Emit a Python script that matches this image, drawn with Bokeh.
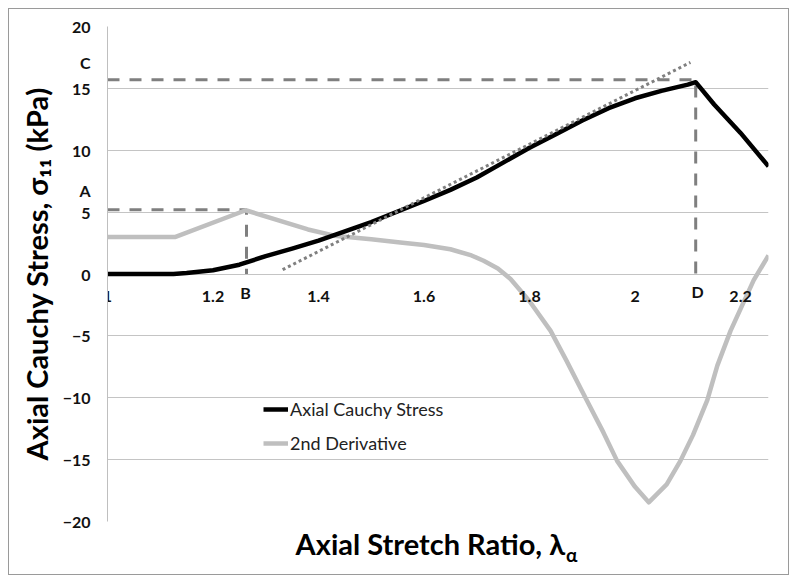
import numpy as np
from bokeh.plotting import figure
from bokeh.models import (ColumnDataSource, FixedTicker, Legend, LegendItem,
                          LabelSet, Range1d, LinearAxis)
from bokeh.core.properties import value
from bokeh.embed import file_html
from bokeh.resources import INLINE

# ---------------- data ----------------
stretch_stress = [1.0, 1.05, 1.1, 1.125, 1.15, 1.2, 1.25, 1.3, 1.35, 1.4, 1.45, 1.5,
                  1.55, 1.6, 1.65, 1.7, 1.75, 1.8, 1.85, 1.9, 1.95, 2.0, 2.05, 2.1,
                  2.115, 2.15, 2.2, 2.253]
stress = [0.0, 0.0, 0.0, 0.0, 0.08, 0.3, 0.75, 1.45, 2.05, 2.7, 3.45, 4.2,
          5.05, 5.9, 6.8, 7.8, 9.0, 10.2, 11.3, 12.4, 13.4, 14.2, 14.8, 15.3,
          15.5, 13.7, 11.4, 8.7]

stretch_d2 = [1.0, 1.129, 1.262, 1.38, 1.43, 1.5, 1.555, 1.6, 1.65, 1.69, 1.713, 1.74,
              1.764, 1.8, 1.84, 1.87, 1.906, 1.94, 1.966, 2.0, 2.026, 2.06, 2.086,
              2.11, 2.137, 2.156, 2.181, 2.225, 2.253]
d2 = [3.0, 3.0, 5.15, 3.6, 3.1, 2.8, 2.55, 2.35, 2.0, 1.5, 1.07, 0.45,
      -0.4, -2.2, -4.6, -7.0, -10.0, -12.8, -15.1, -17.2, -18.45, -17.0, -15.1,
      -13.0, -10.2, -7.4, -4.6, -0.5, 1.5]

tangent_x = [1.332, 2.105]
tangent_y = [0.35, 17.1]

point_A_stress = 5.2
point_B_stretch = 1.2635
point_C_stress = 15.7
point_D_stretch = 2.115

# letters A and C sit in the y tick column, B and D just under the zero line
side_letters = {6.73: "A", 17.07: "C"}
inner_letters = ["B", "D"]
inner_letter_x = [1.2616, 2.1185]
inner_letter_y = [-1.5, -1.43]

xtick_values = [1, 1.2, 1.4, 1.6, 1.8, 2, 2.2]
xtick_labels = ["1", "1.2", "1.4", "1.6", "1.8", "2", "2.2"]
ytick_values = [-20, -15, -10, -5, 0, 5, 10, 15, 20]

series_names = ["Axial Cauchy Stress", "2nd Derivative"]
x_title = "Axial Stretch Ratio, λ"
x_title_sub = "α"
y_title = "Axial Cauchy Stress, σ₁₁ (kPa)"
x_title_pos = 1.612
x_title_sub_pos = 1.880

FONT = "Lato"

# ---------------- figure ----------------
p = figure(width=781, height=567,
           x_range=Range1d(1, 2.253), y_range=Range1d(-20, 20),
           output_backend="svg", toolbar_location=None,
           min_border_left=98, min_border_right=22,
           min_border_top=17, min_border_bottom=55)
p.margin = (8, 0, 0, 8)
p.styles = {"border": "1px solid #9a9a9a"}
p.outline_line_color = None
p.background_fill_color = "white"
p.border_fill_color = "white"

p.xgrid.visible = False
p.ygrid.ticker = FixedTicker(ticks=ytick_values)
p.ygrid.grid_line_color = "#c4c4c4"
p.ygrid.grid_line_width = 1


def style_axis(ax, size="14px", standoff=0):
    ax.axis_line_color = None
    ax.major_tick_line_color = None
    ax.minor_tick_line_color = None
    ax.major_tick_out = 0
    ax.major_tick_in = 0
    ax.minor_tick_out = 0
    ax.minor_tick_in = 0
    ax.major_label_standoff = standoff
    ax.major_label_text_font = FONT
    ax.major_label_text_font_style = "bold"
    ax.major_label_text_font_size = size
    ax.major_label_text_color = "#111111"


xa = p.xaxis[0]
xa.fixed_location = 0
xa.ticker = FixedTicker(ticks=xtick_values)
xa.major_label_overrides = dict(zip(xtick_values, xtick_labels))
style_axis(xa, "16px", 17)

ya = p.yaxis[0]
ya.ticker = FixedTicker(ticks=ytick_values + list(side_letters.keys()))
ya.major_label_overrides = dict(side_letters)
style_axis(ya, "16px", 17)
ya.axis_line_color = "#bfbfbf"
ya.axis_line_width = 1
ya.axis_label = y_title
ya.axis_label_text_font = FONT
ya.axis_label_text_font_style = "bold"
ya.axis_label_text_font_size = "29px"
ya.axis_label_text_color = "#000000"
ya.axis_label_standoff = 6

# x title built from two tick-label-only axes (main text + lowered subscript)
title_axis = LinearAxis(ticker=FixedTicker(ticks=[x_title_pos]),
                        major_label_overrides={x_title_pos: x_title})
style_axis(title_axis, "29px", 4)
title_axis.major_label_text_color = "#000000"
p.add_layout(title_axis, "below")

sub_axis = LinearAxis(ticker=FixedTicker(ticks=[x_title_sub_pos]),
                      major_label_overrides={x_title_sub_pos: x_title_sub})
style_axis(sub_axis, "19px", -21)
sub_axis.major_label_text_color = "#000000"
p.add_layout(sub_axis, "below")

# ---------------- guide lines ----------------
guide_xs = [[1, point_B_stretch, point_B_stretch], [1, point_D_stretch, point_D_stretch]]
guide_ys = [[point_A_stress, point_A_stress, 0], [point_C_stress, point_C_stress, 0]]
p.multi_line(guide_xs, guide_ys, line_color="#7f7f7f", line_width=3, line_dash="12 10")

# ---------------- series ----------------
r_d2 = p.line(stretch_d2, d2, line_color="#bfbfbf", line_width=4.5, line_join="round")
r_stress = p.line(stretch_stress, stress, line_color="#000000", line_width=4.5, line_join="round")
p.line(tangent_x, tangent_y, line_color="#808080", line_width=3, line_dash="3 3")

# ---------------- letters B, D ----------------
letter_src = ColumnDataSource(dict(x=inner_letter_x, y=inner_letter_y, t=inner_letters))
p.add_layout(LabelSet(x="x", y="y", text="t", source=letter_src,
                      text_font=value(FONT), text_font_style="bold", text_font_size="16px",
                      text_color="#111111", text_align="center", text_baseline="middle"))

# ---------------- legend ----------------
legend = Legend(items=[LegendItem(label=series_names[0], renderers=[r_stress]),
                       LegendItem(label=series_names[1], renderers=[r_d2])],
                location=(156, 67), orientation="vertical",
                border_line_color=None, background_fill_alpha=0,
                padding=0, margin=0, spacing=12,
                glyph_width=25, glyph_height=20, label_height=20, label_standoff=2,
                label_text_font=FONT, label_text_font_size="18px",
                label_text_color="#222222")
p.add_layout(legend)

open("out.html", "w").write(file_html(p, INLINE))
